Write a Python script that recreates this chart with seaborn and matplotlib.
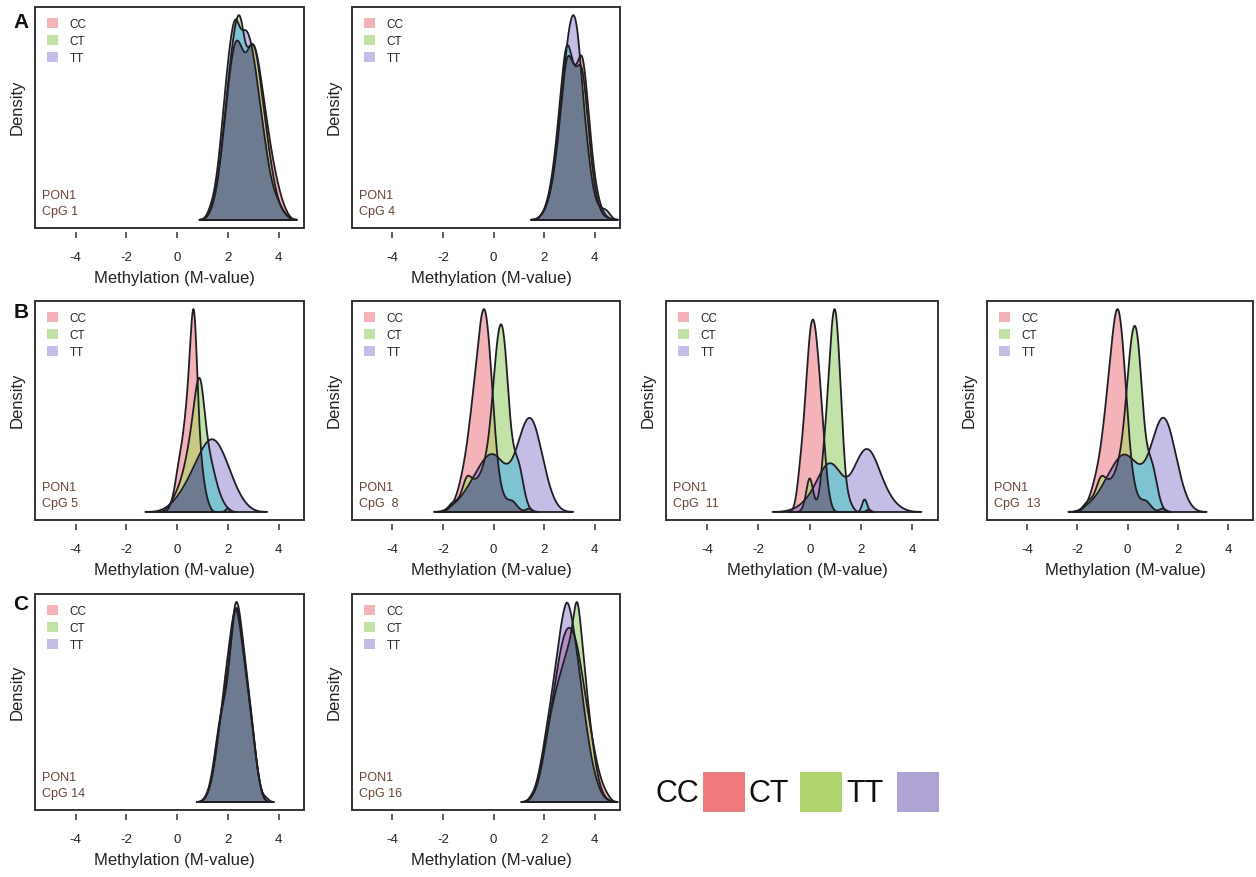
import matplotlib.pyplot as plt
import numpy as np
import seaborn as sns
from matplotlib.patches import Patch, Rectangle

GENOTYPES = ["CC", "CT", "TT"]
X_TICKS = [-4, -2, 0, 2, 4]
X_RANGE = (-5.6, 5.0)

# M-values and relative number of samples at each value
CPG1_M = [1.3, 1.5, 1.7, 1.9, 2.1, 2.3, 2.5, 2.7, 2.9, 3.1, 3.3, 3.5, 3.7, 3.9, 4.1, 4.3]
CPG1_CC_N = [0.03, 0.1, 0.25, 0.48, 0.7, 0.85, 0.8, 0.72, 0.82, 0.8, 0.65, 0.48, 0.32, 0.2, 0.1, 0.04]
CPG1_CT_N = [0.03, 0.1, 0.25, 0.5, 0.72, 0.9, 0.98, 0.72, 0.8, 0.8, 0.6, 0.42, 0.25, 0.12, 0.05, 0.02]
CPG1_TT_N = [0.05, 0.12, 0.3, 0.55, 0.75, 0.88, 0.75, 0.8, 0.75, 0.62, 0.45, 0.3, 0.16, 0.1, 0.05, 0.02]
CPG1_BW = [0.14, 0.14, 0.14]

CPG4_M = [1.9, 2.1, 2.3, 2.5, 2.7, 2.9, 3.1, 3.3, 3.5, 3.7, 3.9, 4.1, 4.3, 4.5]
CPG4_CC_N = [0.02, 0.06, 0.15, 0.32, 0.58, 0.85, 0.75, 0.7, 0.88, 0.6, 0.3, 0.12, 0.04, 0.01]
CPG4_CT_N = [0.02, 0.07, 0.18, 0.38, 0.65, 0.9, 0.72, 0.68, 0.78, 0.5, 0.22, 0.08, 0.02, 0.01]
CPG4_TT_N = [0.02, 0.06, 0.15, 0.32, 0.55, 0.8, 0.95, 0.92, 0.6, 0.35, 0.15, 0.06, 0.05, 0.05]
CPG4_BW = [0.14, 0.14, 0.14]

CPG5_CC_M = [-0.3, -0.2, -0.1, 0.0, 0.1, 0.2, 0.3, 0.4, 0.5, 0.6, 0.7, 0.8, 0.9, 1.0, 1.1, 1.2, 1.3, 2.0]
CPG5_CC_N = [0.02, 0.05, 0.1, 0.18, 0.25, 0.3, 0.4, 0.5, 0.68, 0.92, 0.95, 0.55, 0.3, 0.18, 0.1, 0.05, 0.02, 0.03]
CPG5_CT_M = [-0.4, -0.25, -0.1, 0.05, 0.2, 0.35, 0.5, 0.65, 0.8, 0.95, 1.1, 1.25, 1.4, 1.55, 1.7, 1.85, 2.0]
CPG5_CT_N = [0.02, 0.05, 0.1, 0.15, 0.22, 0.32, 0.45, 0.62, 0.85, 0.88, 0.55, 0.38, 0.28, 0.18, 0.1, 0.05, 0.02]
CPG5_TT_M = [-0.5, -0.2, 0.1, 0.4, 0.7, 1.0, 1.3, 1.6, 1.9, 2.2, 2.5, 2.8]
CPG5_TT_N = [0.03, 0.1, 0.22, 0.38, 0.58, 0.8, 0.95, 0.9, 0.68, 0.4, 0.18, 0.06]
CPG5_BW = [0.08, 0.12, 0.25]

CPG8_CC_M = [-1.8, -1.65, -1.5, -1.35, -1.2, -1.05, -0.9, -0.75, -0.6, -0.45, -0.3, -0.15,
             0.0, 0.15, 0.3, 0.45, 0.6, 0.75, 0.9, 1.05, 1.4]
CPG8_CC_N = [0.01, 0.03, 0.06, 0.12, 0.2, 0.3, 0.45, 0.6, 0.78, 0.95, 0.95, 0.75,
             0.45, 0.22, 0.1, 0.06, 0.05, 0.06, 0.03, 0.01, 0.03]
CPG8_CT_M = [-1.8, -1.65, -1.5, -1.35, -1.2, -1.05, -0.9, -0.75, -0.6, -0.45, -0.3, -0.15,
             0.0, 0.15, 0.3, 0.45, 0.6, 0.75, 0.9, 1.05, 1.2, 1.35]
CPG8_CT_N = [0.02, 0.05, 0.05, 0.06, 0.12, 0.2, 0.16, 0.15, 0.16, 0.2, 0.26, 0.38,
             0.62, 0.86, 0.95, 0.86, 0.5, 0.3, 0.27, 0.24, 0.1, 0.03]
CPG8_TT_M = [-1.7, -1.4, -1.1, -0.8, -0.5, -0.2, 0.1, 0.4, 0.7, 1.0, 1.3, 1.6, 1.9, 2.2, 2.5]
CPG8_TT_N = [0.05, 0.1, 0.2, 0.32, 0.45, 0.55, 0.55, 0.42, 0.42, 0.65, 0.92, 0.9, 0.55, 0.22, 0.05]
CPG8_BW = [0.12, 0.12, 0.22]

CPG11_CC_M = [-0.6, -0.5, -0.4, -0.3, -0.2, -0.1, 0.0, 0.1, 0.2, 0.3, 0.4, 0.5, 0.6, 0.7,
              0.8, 0.9, 2.3]
CPG11_CC_N = [0.02, 0.08, 0.2, 0.3, 0.45, 0.62, 0.8, 0.86, 0.84, 0.72, 0.58, 0.42, 0.25, 0.12,
              0.05, 0.01, 0.02]
CPG11_CT_M = [-0.3, -0.2, -0.1, 0.0, 0.1, 0.2, 0.3, 0.4, 0.5, 0.6, 0.7, 0.8, 0.9, 1.0, 1.1,
              1.2, 1.3, 1.4, 1.5, 1.6, 1.7, 2.1, 2.2]
CPG11_CT_N = [0.01, 0.04, 0.12, 0.2, 0.12, 0.05, 0.04, 0.1, 0.25, 0.38, 0.55, 0.78, 0.95, 1.0,
              0.85, 0.6, 0.35, 0.15, 0.08, 0.04, 0.02, 0.08, 0.06]
CPG11_TT_M = [-0.8, -0.5, -0.2, 0.1, 0.4, 0.7, 1.0, 1.3, 1.6, 1.9, 2.2, 2.5, 2.8, 3.1, 3.4, 3.7]
CPG11_TT_N = [0.02, 0.06, 0.15, 0.3, 0.55, 0.75, 0.7, 0.45, 0.48, 0.8, 0.98, 0.85, 0.5, 0.25,
              0.1, 0.03]
CPG11_BW = [0.08, 0.08, 0.22]

CPG13_CC_M = [-1.8, -1.65, -1.5, -1.35, -1.2, -1.05, -0.9, -0.75, -0.6, -0.45, -0.3, -0.15,
              0.0, 0.15, 0.3, 0.45, 0.6, 0.75, 0.9, 1.05, 1.4]
CPG13_CC_N = [0.01, 0.03, 0.07, 0.13, 0.2, 0.3, 0.45, 0.62, 0.8, 0.96, 0.93, 0.72,
              0.43, 0.21, 0.1, 0.06, 0.05, 0.06, 0.03, 0.01, 0.03]
CPG13_CT_M = [-1.8, -1.65, -1.5, -1.35, -1.2, -1.05, -0.9, -0.75, -0.6, -0.45, -0.3, -0.15,
              0.0, 0.15, 0.3, 0.45, 0.6, 0.75, 0.9, 1.05, 1.2, 1.35]
CPG13_CT_N = [0.02, 0.05, 0.06, 0.07, 0.13, 0.2, 0.16, 0.15, 0.16, 0.2, 0.27, 0.4,
              0.64, 0.87, 0.95, 0.85, 0.5, 0.3, 0.27, 0.23, 0.1, 0.03]
CPG13_TT_M = [-1.7, -1.4, -1.1, -0.8, -0.5, -0.2, 0.1, 0.4, 0.7, 1.0, 1.3, 1.6, 1.9, 2.2, 2.5]
CPG13_TT_N = [0.05, 0.1, 0.2, 0.33, 0.46, 0.56, 0.52, 0.42, 0.42, 0.65, 0.92, 0.9, 0.55, 0.22, 0.05]
CPG13_BW = [0.12, 0.12, 0.22]

CPG14_M = [1.1, 1.25, 1.4, 1.55, 1.7, 1.85, 2.0, 2.15, 2.3, 2.45, 2.6, 2.75, 2.9, 3.05, 3.2,
           3.35, 3.5]
CPG14_CC_N = [0.02, 0.05, 0.12, 0.25, 0.4, 0.58, 0.72, 0.88, 1.0, 0.9, 0.74, 0.6, 0.45, 0.28,
              0.12, 0.03, 0.03]
CPG14_CT_N = [0.01, 0.05, 0.13, 0.27, 0.4, 0.48, 0.56, 0.8, 1.0, 0.92, 0.75, 0.6, 0.45, 0.27,
              0.12, 0.03, 0.0]
CPG14_TT_N = [0.02, 0.06, 0.15, 0.3, 0.42, 0.52, 0.63, 0.8, 1.0, 0.92, 0.75, 0.6, 0.45, 0.28,
              0.12, 0.03, 0.0]
CPG14_BW = [0.11, 0.11, 0.11]

CPG16_M = [1.5, 1.7, 1.9, 2.1, 2.3, 2.5, 2.7, 2.9, 3.1, 3.3, 3.5, 3.7, 3.9, 4.1, 4.3, 4.5]
CPG16_CC_N = [0.02, 0.07, 0.18, 0.33, 0.48, 0.65, 0.8, 0.88, 0.87, 0.8, 0.64, 0.47, 0.32, 0.18,
              0.09, 0.04]
CPG16_CT_N = [0.02, 0.06, 0.15, 0.3, 0.42, 0.52, 0.6, 0.68, 0.75, 1.0, 0.72, 0.48, 0.28, 0.12,
              0.04, 0.01]
CPG16_TT_N = [0.03, 0.08, 0.2, 0.35, 0.5, 0.68, 0.85, 0.97, 0.86, 0.7, 0.5, 0.33, 0.18, 0.09,
              0.03, 0.01]
CPG16_BW = [0.14, 0.13, 0.13]

# (row, column, site label, values, counts, bandwidths)
PANELS = [
    (0, 0, "CpG 1", [CPG1_M, CPG1_M, CPG1_M], [CPG1_CC_N, CPG1_CT_N, CPG1_TT_N], CPG1_BW),
    (0, 1, "CpG 4", [CPG4_M, CPG4_M, CPG4_M], [CPG4_CC_N, CPG4_CT_N, CPG4_TT_N], CPG4_BW),
    (1, 0, "CpG 5", [CPG5_CC_M, CPG5_CT_M, CPG5_TT_M], [CPG5_CC_N, CPG5_CT_N, CPG5_TT_N], CPG5_BW),
    (1, 1, "CpG  8", [CPG8_CC_M, CPG8_CT_M, CPG8_TT_M], [CPG8_CC_N, CPG8_CT_N, CPG8_TT_N], CPG8_BW),
    (1, 2, "CpG  11", [CPG11_CC_M, CPG11_CT_M, CPG11_TT_M],
     [CPG11_CC_N, CPG11_CT_N, CPG11_TT_N], CPG11_BW),
    (1, 3, "CpG  13", [CPG13_CC_M, CPG13_CT_M, CPG13_TT_M],
     [CPG13_CC_N, CPG13_CT_N, CPG13_TT_N], CPG13_BW),
    (2, 0, "CpG 14", [CPG14_M, CPG14_M, CPG14_M], [CPG14_CC_N, CPG14_CT_N, CPG14_TT_N], CPG14_BW),
    (2, 1, "CpG 16", [CPG16_M, CPG16_M, CPG16_M], [CPG16_CC_N, CPG16_CT_N, CPG16_TT_N], CPG16_BW),
]
ROW_LETTERS = ["A", "B", "C"]

# layout in pixels of the 1256x878 figure
W, H = 1256, 878
ROW_TOP = [8, 302, 595]
ROW_BOTTOM = [229, 521, 811]
COL_LEFT = [35, 352, 666, 987]
COL_WIDTH = [269, 268, 272, 266]

SINGLE = ["#F4B3B9", "#C3E2A8", "#C4BEE6"]
PAIR = {(0, 1): "#C8C982", (1, 2): "#7FC2D2", (0, 2): "#B78BC6"}
TRIPLE = "#6E7A90"
OUTLINE = "#1e1e24"
KEY_COLORS = ["#F07B7E", "#B0D56F", "#AFA3D4"]
TEXT_BROWN = "#6B4336"


def fixed_bw(h):
    # bandwidth given in M-value units instead of a factor of the spread
    def factor(kde):
        sd = np.sqrt(np.cov(kde.dataset[0], aweights=kde.weights))
        return h / sd
    return factor


def density_curve(ax, values, counts, bw):
    keep = [(v, n) for v, n in zip(values, counts) if n > 0]
    vals = [v for v, _ in keep]
    wts = [n for _, n in keep]
    sns.kdeplot(x=vals, weights=wts, bw_method=fixed_bw(bw), cut=1000,
                clip=X_RANGE, gridsize=900, ax=ax)
    line = ax.lines[-1]
    xs = np.asarray(line.get_xdata())
    ys = np.asarray(line.get_ydata())
    line.remove()
    return xs, ys, min(vals) - 3 * bw, max(vals) + 3 * bw


def draw_panel(fig, row, col, site, values, counts, bws):
    left, width = COL_LEFT[col], COL_WIDTH[col]
    top, bottom = ROW_TOP[row], ROW_BOTTOM[row]
    height = bottom - top
    ax = fig.add_axes([left / W, 1 - bottom / H, width / W, height / H])

    curves = [density_curve(ax, values[i], counts[i], bws[i]) for i in range(3)]
    xs = curves[0][0]
    d = [c[1] for c in curves]

    # overlapping parts get their own blended colour, like the original
    low = np.minimum.reduce(d)
    ax.fill_between(xs, 0, low, color=TRIPLE, lw=0)
    for (i, j), c in PAIR.items():
        ax.fill_between(xs, low, np.minimum(d[i], d[j]), color=c, lw=0)
    for i in range(3):
        others = np.maximum(d[(i + 1) % 3], d[(i + 2) % 3])
        ax.fill_between(xs, others, np.maximum(d[i], others), color=SINGLE[i], lw=0)
    for i in range(3):
        lo, hi = curves[i][2], curves[i][3]
        m = (xs >= lo) & (xs <= hi)
        ax.plot(xs[m], d[i][m], color=OUTLINE, lw=1.3)
        ax.hlines(0, xs[m][0], xs[m][-1], color=OUTLINE, lw=1.3)

    ymax = max(y.max() for y in d)
    ax.set_ylim(-0.04 * ymax, 1.04 * ymax)
    ax.set_xlim(X_RANGE)
    ax.set_xticks(X_TICKS)
    ax.set_xticklabels([str(t) for t in X_TICKS])
    ax.set_yticks([])
    for s in ax.spines.values():
        s.set_visible(False)
    ax.spines["bottom"].set_position(("outward", 3))
    ax.tick_params(axis="x", bottom=True, direction="out", length=4.5, width=1.1,
                   color="#333333", pad=9, labelsize=9.5, labelcolor="#222222")
    ax.add_patch(Rectangle((0, 0), 1, 1, transform=ax.transAxes, fill=False,
                           ec="#333333", lw=1.4, clip_on=False, zorder=5))

    ax.set_xlabel("Methylation (M-value)", fontsize=12, color="#222222")
    ax.xaxis.set_label_coords(0.52, -50 / height)
    ax.xaxis.label.set_va("center")
    ax.set_ylabel("Density", fontsize=12, color="#222222")
    ax.yaxis.set_label_coords(-17.5 / width, 0.55)
    ax.yaxis.label.set_va("center")

    handles = [Patch(facecolor=SINGLE[i], edgecolor="none", label=g)
               for i, g in enumerate(GENOTYPES)]
    ax.legend(handles=handles, loc="upper left", bbox_to_anchor=(12 / width, 1 - 11 / height),
              frameon=False, fontsize=8.5, handlelength=0.9, handleheight=0.9,
              handletextpad=1.0, labelspacing=0.42, borderpad=0, borderaxespad=0)

    ax.annotate("PON1\n" + site, xy=(0, 0), xycoords="axes fraction",
                xytext=(5, 8), textcoords="offset points", ha="left", va="bottom",
                fontsize=9, color=TEXT_BROWN, linespacing=1.4)
    return ax


def main():
    sns.set_theme(style="white")
    plt.rcParams["font.family"] = ["Liberation Sans", "DejaVu Sans"]

    fig = plt.figure(figsize=(W / 100, H / 100), dpi=100)
    for row, col, site, values, counts, bws in PANELS:
        draw_panel(fig, row, col, site, values, counts, bws)

    letter_y = [22, 313, 605]
    for letter, y in zip(ROW_LETTERS, letter_y):
        fig.text(21 / W, 1 - y / H, letter, fontsize=15, fontweight="bold",
                 ha="center", va="center", color="#111111")

    # genotype key at the bottom right
    text_x = [677, 769, 865]
    box_x = [703, 800, 897]
    for i, g in enumerate(GENOTYPES):
        fig.text(text_x[i] / W, 1 - 794 / H, g, fontsize=22, ha="center", va="center",
                 color="#111111")
        fig.add_artist(Rectangle((box_x[i] / W, 1 - 813 / H), 42 / W, 40 / H,
                                 transform=fig.transFigure, facecolor=KEY_COLORS[i],
                                 edgecolor="none"))

    fig.savefig("out.png", dpi=100)


if __name__ == "__main__":
    main()
